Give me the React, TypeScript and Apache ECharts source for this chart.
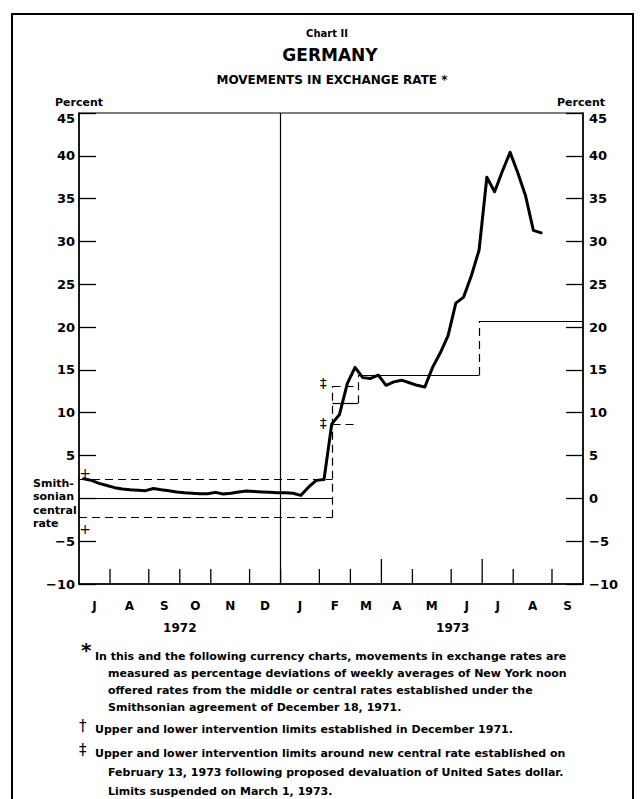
import React, { useEffect, useRef } from "react";
import * as echarts from "echarts";

// ---- Data (x in weeks from the start of July 1972) ----
const monthLabels = ["J", "A", "S", "O", "N", "D", "J", "F", "M", "A", "M", "J", "J", "A", "S"];
const monthBounds = [0, 4, 9, 13, 17, 22, 26, 31, 35, 39, 43, 48, 52, 56, 61, 65];
const quarterBounds = [39, 52];
const yearDivider = 26;
const yearLabels = ["1972", "1973"];
const yearCenters = [13, 48.2];

// weekly averages, percent deviation from Smithsonian central rate
const weeklyDeviation = [
  2.3, 2.1, 1.75, 1.5, 1.25, 1.1, 1.0, 0.95, 0.9, 1.15,
  1.0, 0.9, 0.75, 0.65, 0.6, 0.55, 0.55, 0.7, 0.5, 0.6,
  0.75, 0.85, 0.8, 0.75, 0.7, 0.65, 0.65, 0.6, 0.35, 1.3,
  2.1, 2.2, 8.7, 9.8, 13.4, 15.3, 14.1, 14.0, 14.4, 13.2,
  13.6, 13.8, 13.5, 13.2, 13.0, 15.3, 17.0, 19.0, 22.8, 23.5,
  26.0, 29.0, 37.5, 35.8, 38.2, 40.4, 38.0, 35.3, 31.3, 31.0,
];
const WEEK_OFFSET = 0.6;

// intervention limits and central rates
const smithLimit = 2.25;
const feb13 = 32.7;
const limitsEnd = 36.0;
const lowerEnd = 35.6;
const jun29 = 51.65;
const centralFeb = 11.1;
const upperFeb = 13.1;
const lowerFeb = 8.7;
const centralMar = 14.4;
const centralJun = 20.7;

const markX = [0.8, 0.8, 31.5, 31.5];
const markY = [3.0, -3.6, 13.45, 8.8];
const markText = ["+", "+", "‡", "‡"];

const titleLines = ["Chart II", "GERMANY", "MOVEMENTS IN EXCHANGE RATE *"];
const sideNote = ["Smith-", "sonian", "central", "rate"];
const footnoteLines = [
  "In this and the following currency charts, movements in exchange rates are",
  "measured as percentage deviations of weekly averages of New York noon",
  "offered rates from the middle or central rates established under the",
  "Smithsonian agreement of December 18, 1971.",
  "Upper and lower intervention limits established in December 1971.",
  "Upper and lower intervention limits around new central rate established on",
  "February 13, 1973 following proposed devaluation of United Sates dollar.",
  "Limits suspended on March 1, 1973.",
];

const FONT = "'DejaVu Sans', 'Noto Sans', sans-serif";

export default function App() {
  const ref = useRef<HTMLDivElement>(null);
  useEffect(() => {
    if (!ref.current) return;
    const chart = echarts.init(ref.current, undefined, { renderer: "svg" });

    const solid = { color: "#000", width: 1.2, type: "solid" };
    const dashed = { color: "#000", width: 1.2, type: [8, 5] };
    const seg = (a: number[], b: number[], style: any) => [
      { coord: a, lineStyle: style },
      { coord: b },
    ];
    const markLines = [
      seg([0, 0], [feb13, 0], solid),
      seg([0, smithLimit], [feb13, smithLimit], dashed),
      seg([0, -smithLimit], [feb13, -smithLimit], dashed),
      seg([feb13, -smithLimit], [feb13, upperFeb], dashed),
      seg([feb13, centralFeb], [limitsEnd, centralFeb], solid),
      seg([feb13, upperFeb], [limitsEnd, upperFeb], dashed),
      seg([feb13, lowerFeb], [lowerEnd, lowerFeb], dashed),
      seg([limitsEnd, centralFeb], [limitsEnd, centralMar], dashed),
      seg([limitsEnd, centralMar], [jun29, centralMar], solid),
      seg([jun29, centralMar], [jun29, centralJun], dashed),
      seg([jun29, centralJun], [65, centralJun], solid),
      seg([yearDivider, -10], [yearDivider, 45], solid),
    ];

    const labelFont = { fontSize: 13, fontWeight: "bold", fontFamily: FONT, color: "#000" };
    const yAxisBase = (position: "left" | "right") => ({
      type: "value",
      min: -10,
      max: 45,
      interval: 5,
      position,
      axisLine: { show: true, lineStyle: { color: "#000", width: 1.5 } },
      axisTick: { show: true, inside: true, length: 17, lineStyle: { color: "#000", width: 1.3 } },
      axisLabel: {
        ...labelFont,
        margin: position === "left" ? 4 : 6,
        formatter: (v: number) =>
          v === 45
            ? "{top|45}"
            : v === 0 && position === "left"
            ? ""
            : v < 0
            ? "−" + Math.abs(v)
            : String(v),
        rich: { top: { ...labelFont, padding: [11, 0, 0, 0] } },
      },
      splitLine: { show: false },
    });

    const txt = (text: string, x: number, y: number, size: number, align = "left", weight = "bold") => ({
      type: "text",
      x,
      y,
      style: {
        text,
        fill: "#000",
        fontSize: size,
        fontWeight: weight,
        fontFamily: FONT,
        align,
        verticalAlign: "middle",
      },
    });

    const graphics: any[] = [
      {
        type: "rect",
        shape: { x: 12, y: 14, width: 621, height: 820 },
        style: { fill: "none", stroke: "#000", lineWidth: 2 },
      },
      txt(titleLines[0], 327, 33, 10, "center"),
      txt(titleLines[1], 330, 55, 17, "center"),
      txt(titleLines[2], 332, 80, 12, "center"),
      txt("Percent", 55, 102, 11),
      txt("Percent", 557, 102, 11),
      ...sideNote.map((s, i) => txt(s, 33, 483 + i * 13.5, 11)),
      txt("*", 81, 650, 20),
      txt(footnoteLines[0], 95, 656, 11),
      txt(footnoteLines[1], 108, 673, 11),
      txt(footnoteLines[2], 108, 690, 11),
      txt(footnoteLines[3], 108, 707, 11),
      txt("†", 79, 726, 15, "left", "normal"),
      txt(footnoteLines[4], 95, 729, 11),
      txt("‡", 79, 750, 15, "left", "normal"),
      txt(footnoteLines[5], 95, 753, 11),
      txt(footnoteLines[6], 108, 772, 11),
      txt(footnoteLines[7], 108, 791, 11),
    ];

    chart.setOption({
      animation: false,
      backgroundColor: "#fff",
      grid: {
        left: 79,
        right: 59,
        top: 113,
        bottom: 215,
        show: true,
        borderColor: "#000",
        borderWidth: 1.2,
      },
      xAxis: {
        type: "value",
        min: 0,
        max: 65,
        axisLine: { show: true, onZero: false, lineStyle: { color: "#000", width: 1.5 } },
        axisTick: { show: false },
        axisLabel: { show: false },
        splitLine: { show: false },
      },
      yAxis: [yAxisBase("left"), yAxisBase("right")],
      graphic: graphics,
      series: [
        {
          type: "line",
          data: weeklyDeviation.map((v, i) => [i + WEEK_OFFSET, v]),
          showSymbol: false,
          symbol: "none",
          lineStyle: { color: "#000", width: 3, join: "round", cap: "round" },
          z: 5,
          silent: true,
          markLine: {
            silent: true,
            symbol: ["none", "none"],
            label: { show: false },
            emphasis: { disabled: true },
            data: markLines,
          },
        },
        {
          type: "custom",
          silent: true,
          data: monthBounds.slice(1, -1).map((b) => [b, -10]),
          renderItem: (params: any, api: any) => {
            const x = api.value(0);
            const p = api.coord([x, -10]);
            const len = quarterBounds.includes(x) ? 25 : 15;
            return {
              type: "line",
              shape: { x1: p[0], y1: p[1], x2: p[0], y2: p[1] - len },
              style: { stroke: "#000", lineWidth: 1.3 },
            };
          },
        },
        {
          type: "custom",
          silent: true,
          data: monthLabels.map((m, i) => [(monthBounds[i] + monthBounds[i + 1]) / 2, -10, i]),
          renderItem: (params: any, api: any) => {
            const p = api.coord([api.value(0), -10]);
            return {
              type: "text",
              x: p[0],
              y: p[1] + 22,
              style: {
                text: monthLabels[api.value(2)],
                fill: "#000",
                fontSize: 12,
                fontWeight: "bold",
                fontFamily: FONT,
                align: "center",
                verticalAlign: "middle",
              },
            };
          },
        },
        {
          type: "custom",
          silent: true,
          data: yearLabels.map((y, i) => [yearCenters[i], -10, i]),
          renderItem: (params: any, api: any) => {
            const p = api.coord([api.value(0), -10]);
            return {
              type: "text",
              x: p[0],
              y: p[1] + 44,
              style: {
                text: yearLabels[api.value(2)],
                fill: "#000",
                fontSize: 12,
                fontWeight: "bold",
                fontFamily: FONT,
                align: "center",
                verticalAlign: "middle",
              },
            };
          },
        },
        {
          type: "custom",
          silent: true,
          data: markX.map((x, i) => [x, markY[i], i]),
          renderItem: (params: any, api: any) => {
            const p = api.coord([api.value(0), api.value(1)]);
            return {
              type: "text",
              x: p[0],
              y: p[1],
              style: {
                text: markText[api.value(2)],
                fill: "#000",
                fontSize: 14,
                fontFamily: "'DejaVu Sans', sans-serif",
                align: "center",
                verticalAlign: "middle",
              },
            };
          },
        },
      ],
    });
    return () => chart.dispose();
  }, []);

  return (
    <div
      ref={ref}
      style={{ position: "absolute", left: 0, top: 0, width: 642, height: 799, background: "#fff" }}
    />
  );
}
